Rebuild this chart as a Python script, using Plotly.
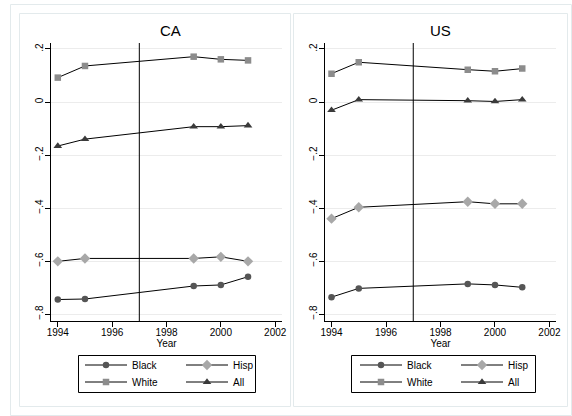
import plotly.graph_objects as go

years = [1994, 1995, 1999, 2000, 2001]

ca_black = [-0.745, -0.743, -0.694, -0.690, -0.659]
ca_hisp = [-0.601, -0.590, -0.590, -0.584, -0.601]
ca_white = [0.092, 0.136, 0.171, 0.161, 0.157]
ca_all = [-0.166, -0.140, -0.093, -0.093, -0.089]

us_black = [-0.736, -0.703, -0.686, -0.690, -0.699]
us_hisp = [-0.440, -0.397, -0.376, -0.384, -0.384]
us_white = [0.107, 0.150, 0.122, 0.116, 0.126]
us_all = [-0.031, 0.009, 0.005, 0.002, 0.009]

panel_titles = ["CA", "US"]
series_names = ["Black", "Hisp", "White", "All"]
y_tickvals = [0.2, 0, -0.2, -0.4, -0.6, -0.8]
y_ticktext = [".2", "0", "\u2212.2", "\u2212.4", "\u2212.6", "\u2212.8"]
x_tickvals = [1994, 1996, 1998, 2000, 2002]
policy_year = 1997

styles = {
    "Black": dict(symbol="circle", color="#555555", size=6.5),
    "Hisp": dict(symbol="diamond", color="#a8a8a8", size=8),
    "White": dict(symbol="square", color="#8c8c8c", size=6.5),
    "All": dict(symbol="triangle-up", color="#3a3a3a", size=7.5),
}

W, H = 572, 416
FONT = "Liberation Sans, Arial, sans-serif"


def px_x(p):
    return p / W


def px_y(p):
    return 1 - p / H


fig = go.Figure()

# legend rows: first row Black/Hisp, second row White/All
row_of = {"Black": 0, "Hisp": 0, "White": 1, "All": 1}
panels = [
    ("x", "y", ["legend", "legend3"], {"Black": ca_black, "Hisp": ca_hisp, "White": ca_white, "All": ca_all}),
    ("x2", "y2", ["legend2", "legend4"], {"Black": us_black, "Hisp": us_hisp, "White": us_white, "All": us_all}),
]

for xa, ya, lgs, data in panels:
    for name in series_names:
        st = styles[name]
        fig.add_trace(go.Scatter(
            x=years, y=data[name], mode="lines+markers", name=name,
            xaxis=xa, yaxis=ya, legend=lgs[row_of[name]],
            line=dict(color="black", width=1),
            marker=dict(symbol=st["symbol"], color=st["color"], size=st["size"],
                        line=dict(width=0)),
        ))

x_domains = [(px_x(51), px_x(282)), (px_x(324.7), px_x(556.3))]
y_domain = (px_y(321), px_y(43))

axis_common = dict(showline=True, linecolor="black", linewidth=1, ticks="outside",
                   ticklen=5, tickcolor="black", tickfont=dict(size=10, color="black", family=FONT))

layout = dict(
    width=W, height=H, margin=dict(l=0, r=0, t=0, b=0, autoexpand=False),
    paper_bgcolor="white", plot_bgcolor="white",
    font=dict(family=FONT, color="black", size=10),
    showlegend=True,
)

for xd, suf in zip(x_domains, ["", "2"]):
    layout["xaxis" + suf] = dict(
        domain=list(xd), range=[1993.75, 2002.25], tickvals=x_tickvals,
        showgrid=False, zeroline=False, anchor="y" + suf, ticklabelstandoff=-3,
        title=dict(text="Year", font=dict(size=10, family=FONT), standoff=0),
        **axis_common)
    layout["yaxis" + suf] = dict(
        domain=list(y_domain), range=[-0.826, 0.2226], tickvals=y_tickvals,
        ticktext=y_ticktext, tickangle=-90, showgrid=True, gridcolor="#ececec",
        gridwidth=1, zeroline=False, anchor="x" + suf, ticklabelstandoff=-2,
        **axis_common)

legend_common = dict(orientation="h", xanchor="left", yanchor="middle",
                     borderwidth=0, bgcolor="rgba(0,0,0,0)",
                     font=dict(size=10, family=FONT), entrywidth=44,
                     traceorder="normal", itemwidth=42)
legend_left = [80, 355]
row_y = [365, 382]
layout["legend"] = dict(x=px_x(legend_left[0]), y=px_y(row_y[0]), **legend_common)
layout["legend3"] = dict(x=px_x(legend_left[0]), y=px_y(row_y[1]), **legend_common)
layout["legend2"] = dict(x=px_x(legend_left[1]), y=px_y(row_y[0]), **legend_common)
layout["legend4"] = dict(x=px_x(legend_left[1]), y=px_y(row_y[1]), **legend_common)

fig.update_layout(**layout)

# legend boxes
for x0, x1 in [(78.5, 255.5), (351.5, 535.5)]:
    fig.add_shape(type="rect", xref="paper", yref="paper", x0=px_x(x0), x1=px_x(x1),
                  y0=px_y(392.5), y1=px_y(355.5), line=dict(color="black", width=1))

# panel titles
for xc, t in zip([170, 440], panel_titles):
    fig.add_annotation(text=t, x=px_x(xc), y=px_y(31), xref="paper", yref="paper",
                       showarrow=False, font=dict(size=15, family=FONT, color="black"),
                       xanchor="center", yanchor="middle")

# borders
border = "#e3eaec"
fig.add_shape(type="rect", xref="paper", yref="paper", x0=px_x(10.5), x1=px_x(571.5),
              y0=px_y(415.5), y1=px_y(4.5), line=dict(color=border, width=1))
for x0, x1 in [(19.5, 290.5), (293.5, 567.5)]:
    fig.add_shape(type="rect", xref="paper", yref="paper", x0=px_x(x0), x1=px_x(x1),
                  y0=px_y(406.5), y1=px_y(13.5), line=dict(color=border, width=1))

# policy vertical lines
for xa, ya in [("x", "y"), ("x2", "y2")]:
    fig.add_shape(type="line", xref=xa, yref=ya + " domain", x0=policy_year, x1=policy_year,
                  y0=0, y1=1, line=dict(color="black", width=1))

fig.write_html("out.html", config={"displayModeBar": False},
               post_script="document.body.style.margin='0';document.body.style.overflow='hidden';")
